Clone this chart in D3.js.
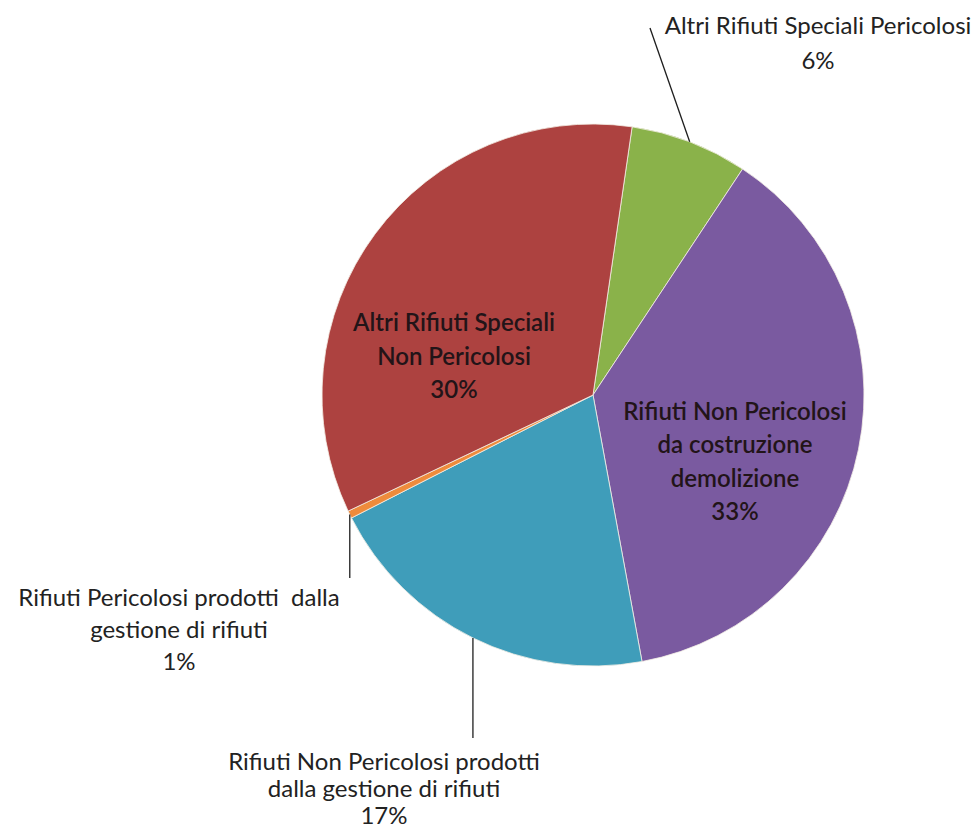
<!DOCTYPE html>
<html>
<head>
<meta charset="utf-8">
<script src="https://cdn.jsdelivr.net/npm/d3@7"></script>
<style>
  body { margin: 0; background: #fff; }
  svg text { font-family: Lato, "Open Sans", sans-serif; }
</style>
</head>
<body>
<div id="chart"></div>
<script>
// slice order clockwise from the top, as in the picture
var categories = ["Altri Rifiuti Speciali Pericolosi",
                  "Rifiuti Non Pericolosi da costruzione demolizione",
                  "Rifiuti Non Pericolosi prodotti dalla gestione di rifiuti",
                  "Rifiuti Pericolosi prodotti dalla gestione di rifiuti",
                  "Altri Rifiuti Speciali Non Pericolosi"];
// slice sizes as drawn (share of the circle, %)
var values = [7.0, 37.8, 20.4, 0.45, 34.35];
// percentages printed on the labels
var pctLabels = ["6%", "33%", "17%", "1%", "30%"];
// label lines
var labelLines = [
  ["Altri Rifiuti Speciali Pericolosi"],
  ["Rifiuti Non Pericolosi", "da costruzione", "demolizione"],
  ["Rifiuti Non Pericolosi prodotti", "dalla gestione di rifiuti"],
  ["Rifiuti Pericolosi prodotti  dalla", "gestione di rifiuti"],
  ["Altri Rifiuti Speciali", "Non Pericolosi"]
];
var colors = ["#8ab24a", "#7a5aa0", "#3f9dba", "#ee8b3c", "#ad4240"];

var WIDTH = 979, HEIGHT = 830;
var cx = 593, cy = 395, R = 271;
var START = 8.3 * Math.PI / 180;

var svg = d3.select("#chart").append("svg")
    .attr("width", WIDTH)
    .attr("height", HEIGHT);

var pie = d3.pie()
    .sort(null)
    .value(function(d) { return d; })
    .startAngle(START)
    .endAngle(START + 2 * Math.PI);

var arc = d3.arc().innerRadius(0).outerRadius(R);
var edge = d3.arc().innerRadius(R).outerRadius(R);

var arcs = pie(values);

var g = svg.append("g").attr("transform", "translate(" + cx + "," + cy + ")");

g.selectAll("path.slice")
  .data(arcs)
  .enter().append("path")
    .attr("class", "slice")
    .attr("d", arc)
    .attr("fill", function(d, i) { return colors[i]; })
    .attr("stroke", "#f4efe6")
    .attr("stroke-width", 0.8);

// label placement (outside labels get a leader line)
var layout = [
  {x: 818, y: 34, lh: 35, outside: true, lead: [650 - cx, 28 - cy]},
  {x: 735, y: 420, lh: 33.3, outside: false},
  {x: 384, y: 770, lh: 27, outside: true, lead: "down", to: 738},
  {x: 179, y: 606, lh: 32, outside: true, lead: "down", to: 578},
  {x: 454, y: 331, lh: 33.5, outside: false}
];

arcs.forEach(function(a, i) {
  var L = layout[i];
  if (L.outside) {
    var p = edge.centroid(a);
    var end = L.lead === "down" ? [p[0], L.to - cy] : L.lead;
    g.append("line")
      .attr("x1", p[0]).attr("y1", p[1])
      .attr("x2", end[0]).attr("y2", end[1])
      .attr("stroke", "#1e1e1e")
      .attr("stroke-width", 1.3);
  }
  var t = svg.append("text")
    .attr("text-anchor", "middle")
    .attr("font-size", 24)
    .attr("font-weight", L.outside ? 400 : 600)
    .attr("fill", L.outside ? "#222" : "#221418")
    .attr("xml:space", "preserve");
  var lines = labelLines[i].concat([pctLabels[i]]);
  lines.forEach(function(s, k) {
    t.append("tspan")
      .attr("x", L.x)
      .attr("y", L.y + k * L.lh)
      .text(s);
  });
});
</script>
</body>
</html>
